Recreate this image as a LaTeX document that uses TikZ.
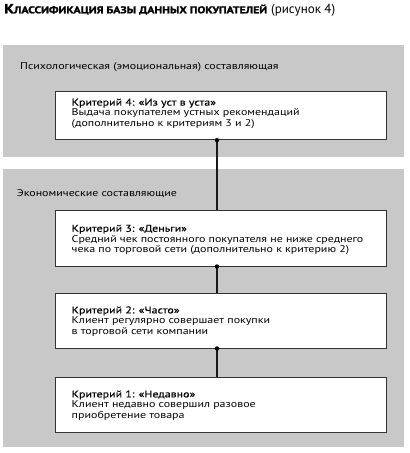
\documentclass[tikz,border=0pt]{standalone}
\usepackage{fontspec}
\setmainfont[FakeStretch=1.22]{PT Sans}
\newfontfamily\medfont[FakeStretch=1.22,FakeBold=0.2]{PT Sans}
\newfontfamily\heavyfont[FakeBold=1.5]{PT Sans Bold}
\newfontfamily\plainfont{PT Sans}
\definecolor{panelgray}{HTML}{C8C8C8}
\definecolor{boxline}{HTML}{333333}
\newcommand{\bodyfont}{\fontsize{9.8}{10.3}\selectfont}
\begin{document}
\begin{tikzpicture}[x=1pt,y=-1pt,
  panel/.style={fill=panelgray, draw=none, inner sep=0pt, minimum width=401pt},
  critbox/.style={draw=boxline, fill=white, line width=0.9pt, inner sep=0pt, minimum width=331pt},
  txt/.style={anchor=base west, inner sep=0pt, align=left, font=\bodyfont},
  lbl/.style={anchor=base west, inner sep=0pt, font=\bodyfont},
  link/.style={line width=1.2pt, draw=black!90},
  dot/.style={circle, fill=black, inner sep=0pt, minimum size=4.4pt}]
\useasboundingbox (0,0) rectangle (410,453);
% title
\node[anchor=base west, inner sep=0pt] (title) at (4,13.3)
  {\resizebox{263pt}{9.3pt}{\heavyfont\fontsize{12.9}{14}\selectfont К\fontsize{9.6}{12}\selectfont ЛАССИФИКАЦИЯ БАЗЫ ДАННЫХ ПОКУПАТЕЛЕЙ}};
\node[anchor=base west, inner sep=0pt] (fig) at (271,13.3)
  {\resizebox{64pt}{!}{\plainfont\fontsize{12}{14}\selectfont (рисунок 4)}};
% panels
\node[panel, minimum height=112pt] (p1) at (203.5,101) {};
\node[panel, minimum height=278pt] (p2) at (203.5,308) {};
\node[lbl] (l1) at (20,69) {Психологическая (эмоциональная) составляющая};
\node[lbl] (l2) at (16.7,196) {Экономические составляющие};
% boxes
\node[critbox, minimum height=48.2pt] (b4) at (220.5,115.6) {};
\node[critbox, minimum height=55.3pt] (b3) at (220.5,238.4) {};
\node[critbox, minimum height=55pt] (b2) at (220.5,320.5) {};
\node[critbox, minimum height=55pt] (b1) at (220.5,404.5) {};
% texts (anchor = baseline of the last line)
\node[txt] (t4) at (71.5,126.2) {{\medfont Критерий 4: «Из уст в уста»}\\Выдача покупателем устных рекомендаций\\(дополнительно к критериям 3 и 2)};
\node[txt] (t3) at (71.5,252.3) {{\medfont Критерий 3: «Деньги»}\\Средний чек постоянного покупателя не ниже среднего\\чека по торговой сети (дополнительно к критерию 2)};
\node[txt] (t2) at (71.5,334) {{\medfont Критерий 2: «Часто»}\\Клиент регулярно совершает покупки\\в торговой сети компании};
\node[txt] (t1) at (71.5,418) {{\medfont Критерий 1: «Недавно»}\\Клиент недавно совершил разовое\\приобретение товара};
% connectors
\coordinate (cx) at (217,0);
\draw[link] (b4.south -| cx) -- (b3.north -| cx);
\draw[link] (b3.south -| cx) -- (b2.north -| cx);
\draw[link] (b2.south -| cx) -- (b1.north -| cx);
\node[dot] (d4) at (b4.south -| cx) {};
\node[dot] (d3) at (b3.south -| cx) {};
\node[dot] (d2) at (b2.south -| cx) {};
\end{tikzpicture}
\end{document}
